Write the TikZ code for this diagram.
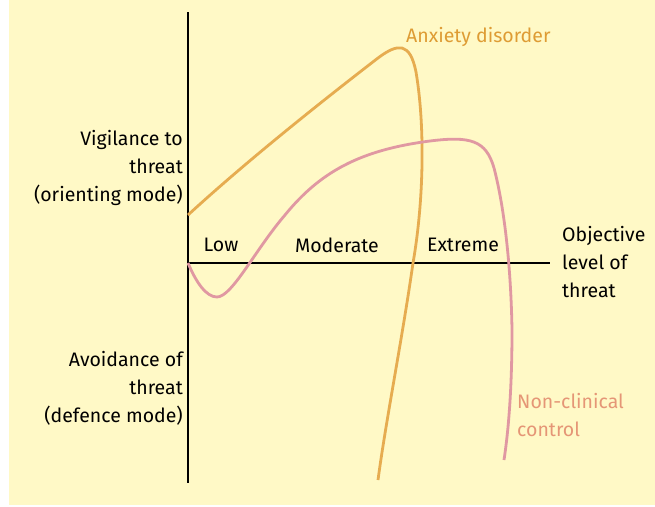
\documentclass[tikz,border=0pt]{standalone}
\usepackage{fontspec}
\setmainfont{Fira Sans}
\definecolor{bgyellow}{RGB}{255,249,198}
\definecolor{anxline}{RGB}{230,172,80}
\definecolor{anxtext}{RGB}{222,156,52}
\definecolor{ncline}{RGB}{224,152,162}
\definecolor{nctext}{RGB}{229,150,118}
\begin{document}
\begin{tikzpicture}[x=1pt,y=-1pt,
  txt/.style={font=\fontsize{19.5}{28}\selectfont, inner sep=0pt},
  lab/.style={txt, align=right, anchor=east},
  labl/.style={txt, align=left, anchor=west},
  axis/.style={line width=1.2pt, black},
  curve/.style={line width=2.8pt, line cap=butt}]
\useasboundingbox (0,0) rectangle (655,506);
\fill[bgyellow] (9,0) rectangle (655,505);
% axes
\coordinate (ytop) at (188,12);
\coordinate (ybot) at (188,483);
\coordinate (xorig) at (188,263);
\coordinate (xend) at (550,263);
\draw[axis] (ytop) -- (ybot);
\draw[axis] (xorig) -- (xend);
% anxiety curve
\draw[curve, anxline] (188,215) .. controls (250,158) and (330,95) .. (378,58)
  .. controls (398,43) and (410,42) .. (416,72)
  .. controls (425,125) and (424,200) .. (413,263)
  .. controls (402,340) and (386,420) .. (378,480);
% non-clinical curve
\draw[curve, ncline] (188,263) .. controls (196,282) and (206,297) .. (217,297)
  .. controls (232,297) and (255,250) .. (285,215)
  .. controls (320,172) and (360,150) .. (430,141)
  .. controls (470,136) and (486,140) .. (494,168)
  .. controls (505,210) and (511,270) .. (512,330)
  .. controls (512,400) and (507,440) .. (504,460);
% labels
\node[lab] (vig) at (183,168) {Vigilance to\\threat\ \\(orienting mode)};
\node[lab] (avo) at (183,388) {Avoidance of\\threat\\(defence mode)};
\node[labl] (obj) at (562,262) {Objective\\level of\\threat};
\node[txt] (low) at (221,245) {Low};
\node[txt] (mod) at (337,245) {Moderate};
\node[txt] (ext) at (463,245) {Extreme};
\node[labl, text=anxtext] (anx) at (406,37) {Anxiety disorder};
\node[labl, text=nctext] (nc) at (517,415) {Non-clinical\\control};
\end{tikzpicture}
\end{document}
